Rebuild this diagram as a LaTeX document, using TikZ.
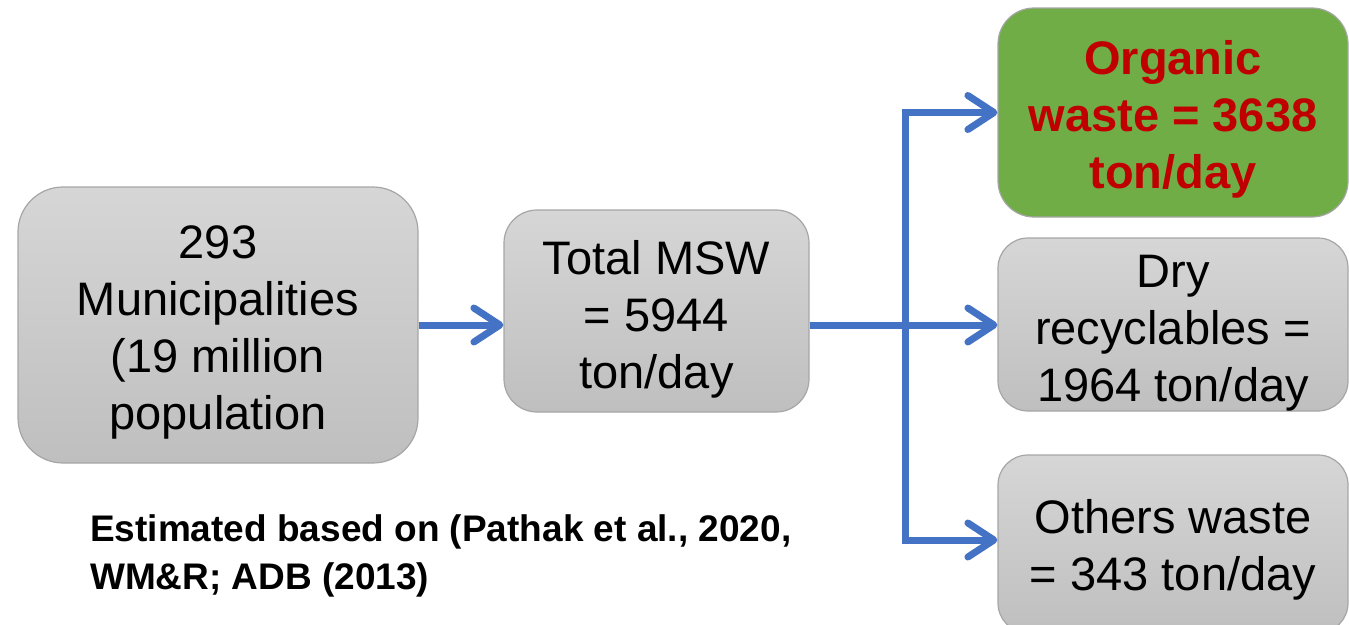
\documentclass[tikz,border=0pt]{standalone}
\usepackage{fontspec}
\setmainfont{Liberation Sans}
\usetikzlibrary{arrows.meta}
\definecolor{flowblue}{HTML}{4472C4}
\definecolor{boxtop}{HTML}{D6D6D6}
\definecolor{boxbot}{HTML}{BFBFBF}
\definecolor{boxline}{HTML}{A6A6A6}
\definecolor{orggreen}{HTML}{70AD47}
\definecolor{orgred}{HTML}{C00000}
\tikzset{
  graybox/.style={draw=boxline, line width=1.2pt, top color=boxtop, bottom color=boxbot, inner sep=0pt},
  greenbox/.style={draw=boxline, line width=1.2pt, fill=orggreen, inner sep=0pt},
  boxtext/.style={align=center, inner sep=0pt, font=\fontsize{47}{57}\selectfont},
  greentext/.style={align=center, inner sep=0pt, text=orgred, font=\fontsize{47}{57}\selectfont\bfseries},
  flow/.style={draw=flowblue, line width=7pt,
    -{Straight Barb[length=26pt,width=34pt,round]}},
  note/.style={align=left, inner sep=0pt, font=\fontsize{37}{48}\selectfont\bfseries}
}
\begin{document}
\begin{tikzpicture}[x=1pt,y=-1pt]
\useasboundingbox (0,0) rectangle (1349,624);
\node[graybox, rounded corners=45pt, minimum width=400pt, minimum height=276pt] (A) at (218,325) {};
\node[graybox, rounded corners=33pt, minimum width=305pt, minimum height=202pt] (B) at (656.5,311) {};
\node[greenbox, rounded corners=36pt, minimum width=350pt, minimum height=209pt] (O) at (1173,112.5) {};
\node[graybox, rounded corners=30pt, minimum width=350pt, minimum height=173pt] (D) at (1173,324.5) {};
\node[graybox, rounded corners=30pt, minimum width=350pt, minimum height=178pt] (T) at (1173,544) {};
\node[boxtext] (At) at ([yshift=-7pt]A.center) {293\\Municipalities\\(19 million\\population};
\node[boxtext] (Bt) at ([yshift=-8pt]B.center) {Total MSW\\= 5944\\ton/day};
\node[greentext] (Ot) at ([yshift=-7pt]O.center) {Organic\\waste = 3638\\ton/day};
\node[boxtext] (Dt) at ([yshift=-9pt]D.center) {Dry\\recyclables =\\1964 ton/day};
\node[boxtext] (Tt) at ([yshift=-6pt]T.center) {Others waste\\= 343 ton/day};
\node[note, anchor=west] (N) at (90,556)
  {Estimated based on (Pathak et al., 2020,\\WM\&R; ADB (2013)};
\coordinate (J) at (905,325);
\draw[flow] (A.east |- 0,325) -- (B.west |- 0,325);
\draw[flow] (B.east |- 0,325) -- (D.west |- 0,325);
\draw[flow] (J) |- (O.west);
\draw[flow] (J) |- ([yshift=4pt]T.west);
\end{tikzpicture}
\end{document}
